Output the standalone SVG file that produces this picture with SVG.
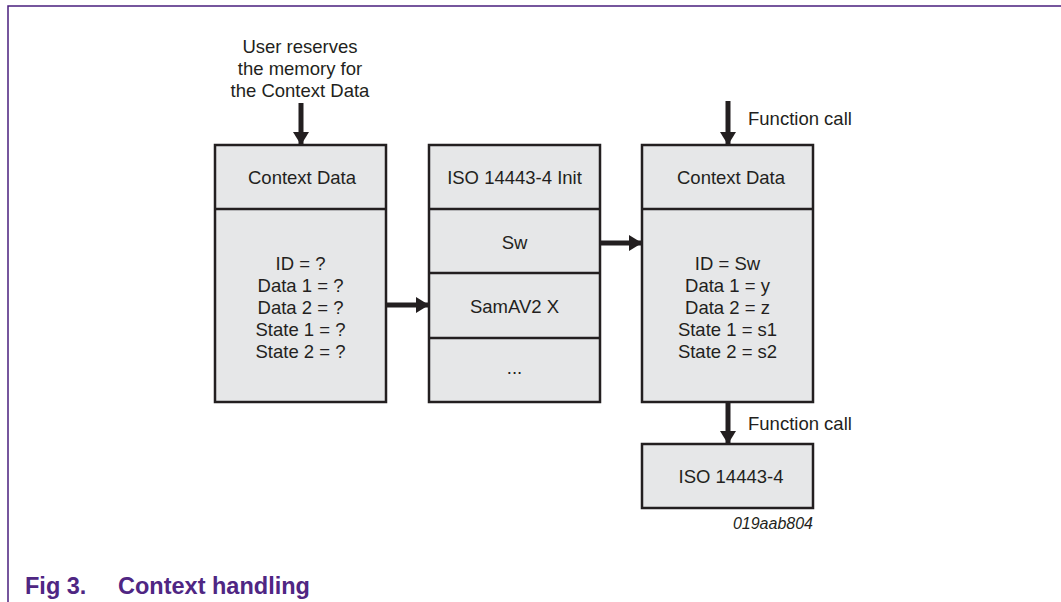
<svg xmlns="http://www.w3.org/2000/svg" width="1061" height="602" viewBox="0 0 1061 602">
  <style>
    .box { fill: #e6e7e8; stroke: #231f20; stroke-width: 2.5; }
    .sep { stroke: #231f20; stroke-width: 2.5; }
    .t { font-family: "Liberation Sans", Arial, sans-serif; font-size: 18.5px; fill: #231f20; text-anchor: middle; }
    .lbl { font-family: "Liberation Sans", Arial, sans-serif; font-size: 18.5px; fill: #231f20; }
    .code { font-family: "Liberation Sans", Arial, sans-serif; font-size: 16px; font-style: italic; fill: #231f20; text-anchor: end; }
    .cap { font-family: "Liberation Sans", Arial, sans-serif; font-size: 23.5px; font-weight: bold; fill: #4f2683; }
    .conn { stroke: #231f20; stroke-width: 5; fill: none; }
  </style>
  <defs>
    <marker id="head" markerUnits="userSpaceOnUse" markerWidth="14" markerHeight="18" refX="13" refY="8" orient="auto">
      <path d="M0,0 L13,8 L0,16 Z" fill="#231f20"/>
    </marker>
  </defs>

  <rect width="1061" height="602" fill="#ffffff"/>

  <!-- page frame -->
  <path d="M8,602 V6 H1061" fill="none" stroke="#4a1f7e" stroke-width="1.5"/>

  <!-- annotation above the left context block -->
  <g id="note-reserve">
    <text class="t" x="300" y="53">User reserves</text>
    <text class="t" x="300" y="75">the memory for</text>
    <text class="t" x="300" y="97">the Context Data</text>
  </g>

  <!-- empty context data -->
  <g id="ctx-empty">
    <rect class="box" x="215" y="145" width="171" height="257"/>
    <line class="sep" x1="215" y1="209" x2="386" y2="209"/>
    <text class="t" x="302" y="184">Context Data</text>
    <text class="t" x="300.5" y="270">ID = ?</text>
    <text class="t" x="300.5" y="292">Data 1 = ?</text>
    <text class="t" x="300.5" y="314">Data 2 = ?</text>
    <text class="t" x="300.5" y="336">State 1 = ?</text>
    <text class="t" x="300.5" y="358">State 2 = ?</text>
  </g>

  <!-- init function table -->
  <g id="iso-init">
    <rect class="box" x="429" y="145" width="171" height="257"/>
    <line class="sep" x1="429" y1="209" x2="600" y2="209"/>
    <line class="sep" x1="429" y1="273" x2="600" y2="273"/>
    <line class="sep" x1="429" y1="338" x2="600" y2="338"/>
    <text class="t" x="514.5" y="184">ISO 14443-4 Init</text>
    <text class="t" x="514.5" y="249">Sw</text>
    <text class="t" x="514.5" y="313">SamAV2 X</text>
    <text class="t" x="514.5" y="374">...</text>
  </g>

  <!-- filled context data -->
  <g id="ctx-filled">
    <rect class="box" x="642" y="145" width="171" height="257"/>
    <line class="sep" x1="642" y1="209" x2="813" y2="209"/>
    <text class="t" x="731" y="184">Context Data</text>
    <text class="t" x="727.5" y="270">ID = Sw</text>
    <text class="t" x="727.5" y="292">Data 1 = y</text>
    <text class="t" x="727.5" y="314">Data 2 = z</text>
    <text class="t" x="727.5" y="336">State 1 = s1</text>
    <text class="t" x="727.5" y="358">State 2 = s2</text>
  </g>

  <!-- protocol layer -->
  <g id="iso-layer">
    <rect class="box" x="642" y="444" width="171" height="64"/>
    <text class="t" x="731" y="483">ISO 14443-4</text>
  </g>

  <!-- connectors -->
  <g id="connectors">
    <line class="conn" x1="301" y1="103" x2="301" y2="145" marker-end="url(#head)"/>
    <line class="conn" x1="387" y1="305" x2="429" y2="305" marker-end="url(#head)"/>
    <line class="conn" x1="601" y1="243" x2="642" y2="243" marker-end="url(#head)"/>
    <line class="conn" x1="728" y1="101" x2="728" y2="145" marker-end="url(#head)"/>
    <line class="conn" x1="728" y1="403" x2="728" y2="444" marker-end="url(#head)"/>
  </g>

  <!-- connector labels -->
  <text class="lbl" x="748" y="125">Function call</text>
  <text class="lbl" x="748" y="430">Function call</text>

  <text class="code" x="813" y="529">019aab804</text>

  <text class="cap" x="25" y="594">Fig 3.</text>
  <text class="cap" x="118" y="594">Context handling</text>
</svg>
